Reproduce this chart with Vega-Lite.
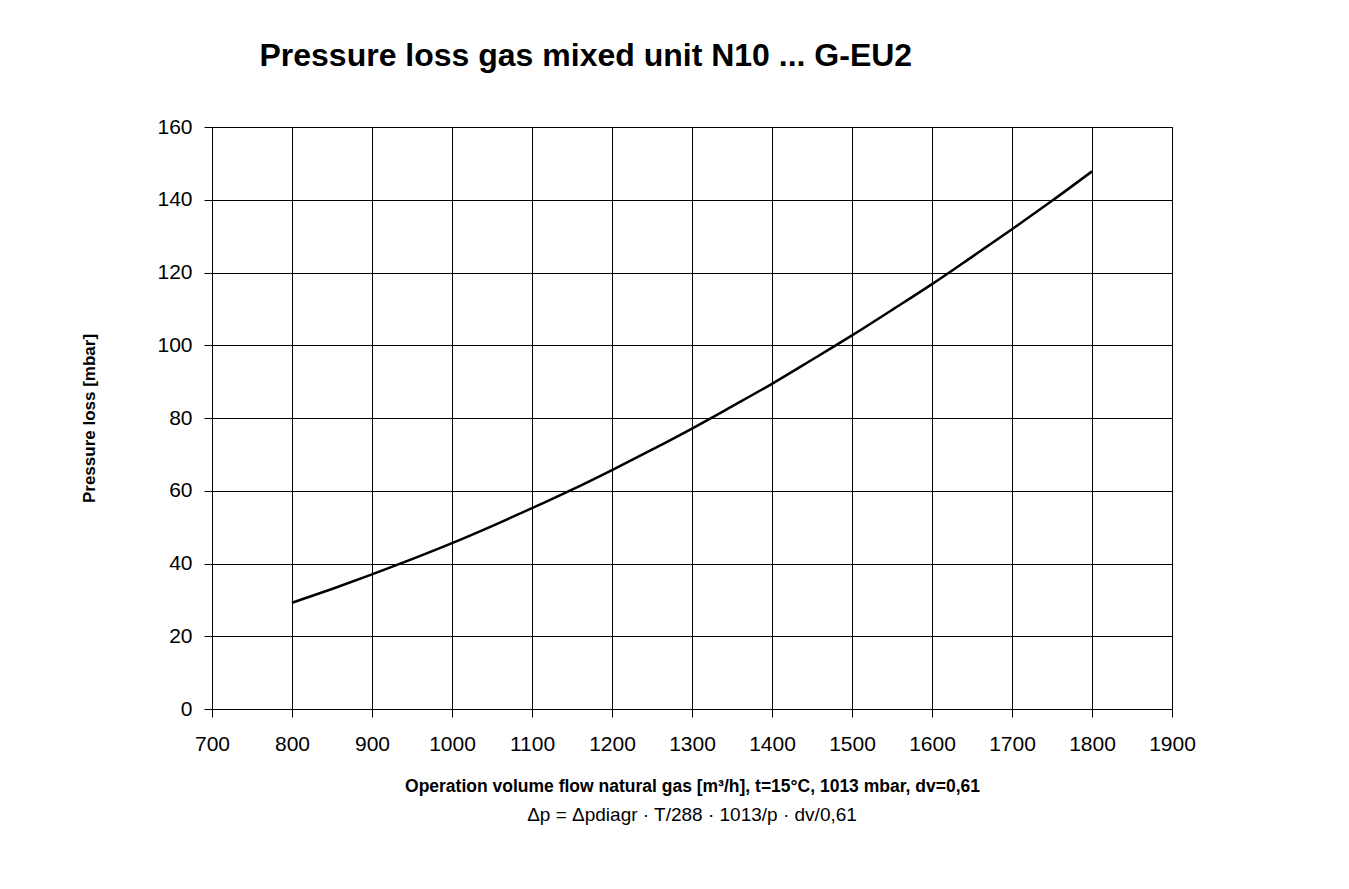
{
  "$schema": "https://vega.github.io/schema/vega-lite/v6.json",
  "background": "white",
  "padding": {"left": 80, "top": 39, "right": 20, "bottom": 5},
  "title": {"text": "Pressure loss gas mixed unit N10 ... G-EU2", "font": "Liberation Sans", "fontSize": 32, "fontWeight": "bold", "anchor": "start", "dx": 179, "offset": 43, "color": "black"},
  "config": {"font": "Liberation Sans", "view": {"stroke": "black", "strokeWidth": 1}},
  "vconcat": [
    {
      "width": 960,
      "height": 582,
      "title": {"text": "Δp = Δpdiagr · T/288 · 1013/p · dv/0,61", "orient": "bottom", "anchor": "middle", "font": "Liberation Sans", "fontSize": 19, "fontWeight": "normal", "color": "black", "offset": 11},
      "data": {"values": [
        {"q": 800, "p": 29.2}, {"q": 850, "p": 33.0}, {"q": 900, "p": 37.0}, {"q": 950, "p": 41.2},
        {"q": 1000, "p": 45.6}, {"q": 1050, "p": 50.3}, {"q": 1100, "p": 55.2}, {"q": 1150, "p": 60.3},
        {"q": 1200, "p": 65.7}, {"q": 1250, "p": 71.3}, {"q": 1300, "p": 77.1}, {"q": 1350, "p": 83.2},
        {"q": 1400, "p": 89.4}, {"q": 1450, "p": 96.0}, {"q": 1500, "p": 102.7}, {"q": 1550, "p": 109.7},
        {"q": 1600, "p": 116.8}, {"q": 1650, "p": 124.3}, {"q": 1700, "p": 131.9}, {"q": 1750, "p": 139.7},
        {"q": 1800, "p": 147.8}
      ]},
      "mark": {"type": "line", "color": "black", "strokeWidth": 2.5, "interpolate": "monotone"},
      "encoding": {
        "x": {"field": "q", "type": "quantitative", "scale": {"domain": [700, 1900], "nice": false, "zero": false},
          "axis": {"values": [700, 800, 900, 1000, 1100, 1200, 1300, 1400, 1500, 1600, 1700, 1800, 1900], "format": "d",
            "title": "Operation volume flow natural gas [m³/h], t=15°C, 1013 mbar, dv=0,61",
            "titleFont": "Liberation Sans", "titleFontSize": 17.5, "titleFontWeight": "bold", "titleColor": "black", "titlePadding": 23,
            "labelFont": "Liberation Sans", "labelFontSize": 21, "labelColor": "black", "labelPadding": 16,
            "grid": true, "gridColor": "black", "gridWidth": 1, "domainColor": "black", "tickColor": "black", "tickSize": 8, "labelFlush": false}},
        "y": {"field": "p", "type": "quantitative", "scale": {"domain": [0, 160], "nice": false},
          "axis": {"values": [0, 20, 40, 60, 80, 100, 120, 140, 160], "format": "d",
            "title": "Pressure loss [mbar]",
            "titleFont": "Liberation Sans", "titleFontSize": 17, "titleFontWeight": "bold", "titleColor": "black", "titlePadding": 58,
            "labelFont": "Liberation Sans", "labelFontSize": 21, "labelColor": "black", "labelPadding": 12,
            "grid": true, "gridColor": "black", "gridWidth": 1, "domainColor": "black", "tickColor": "black", "tickSize": 8, "labelFlush": false}}
      }
    }
  ]
}
